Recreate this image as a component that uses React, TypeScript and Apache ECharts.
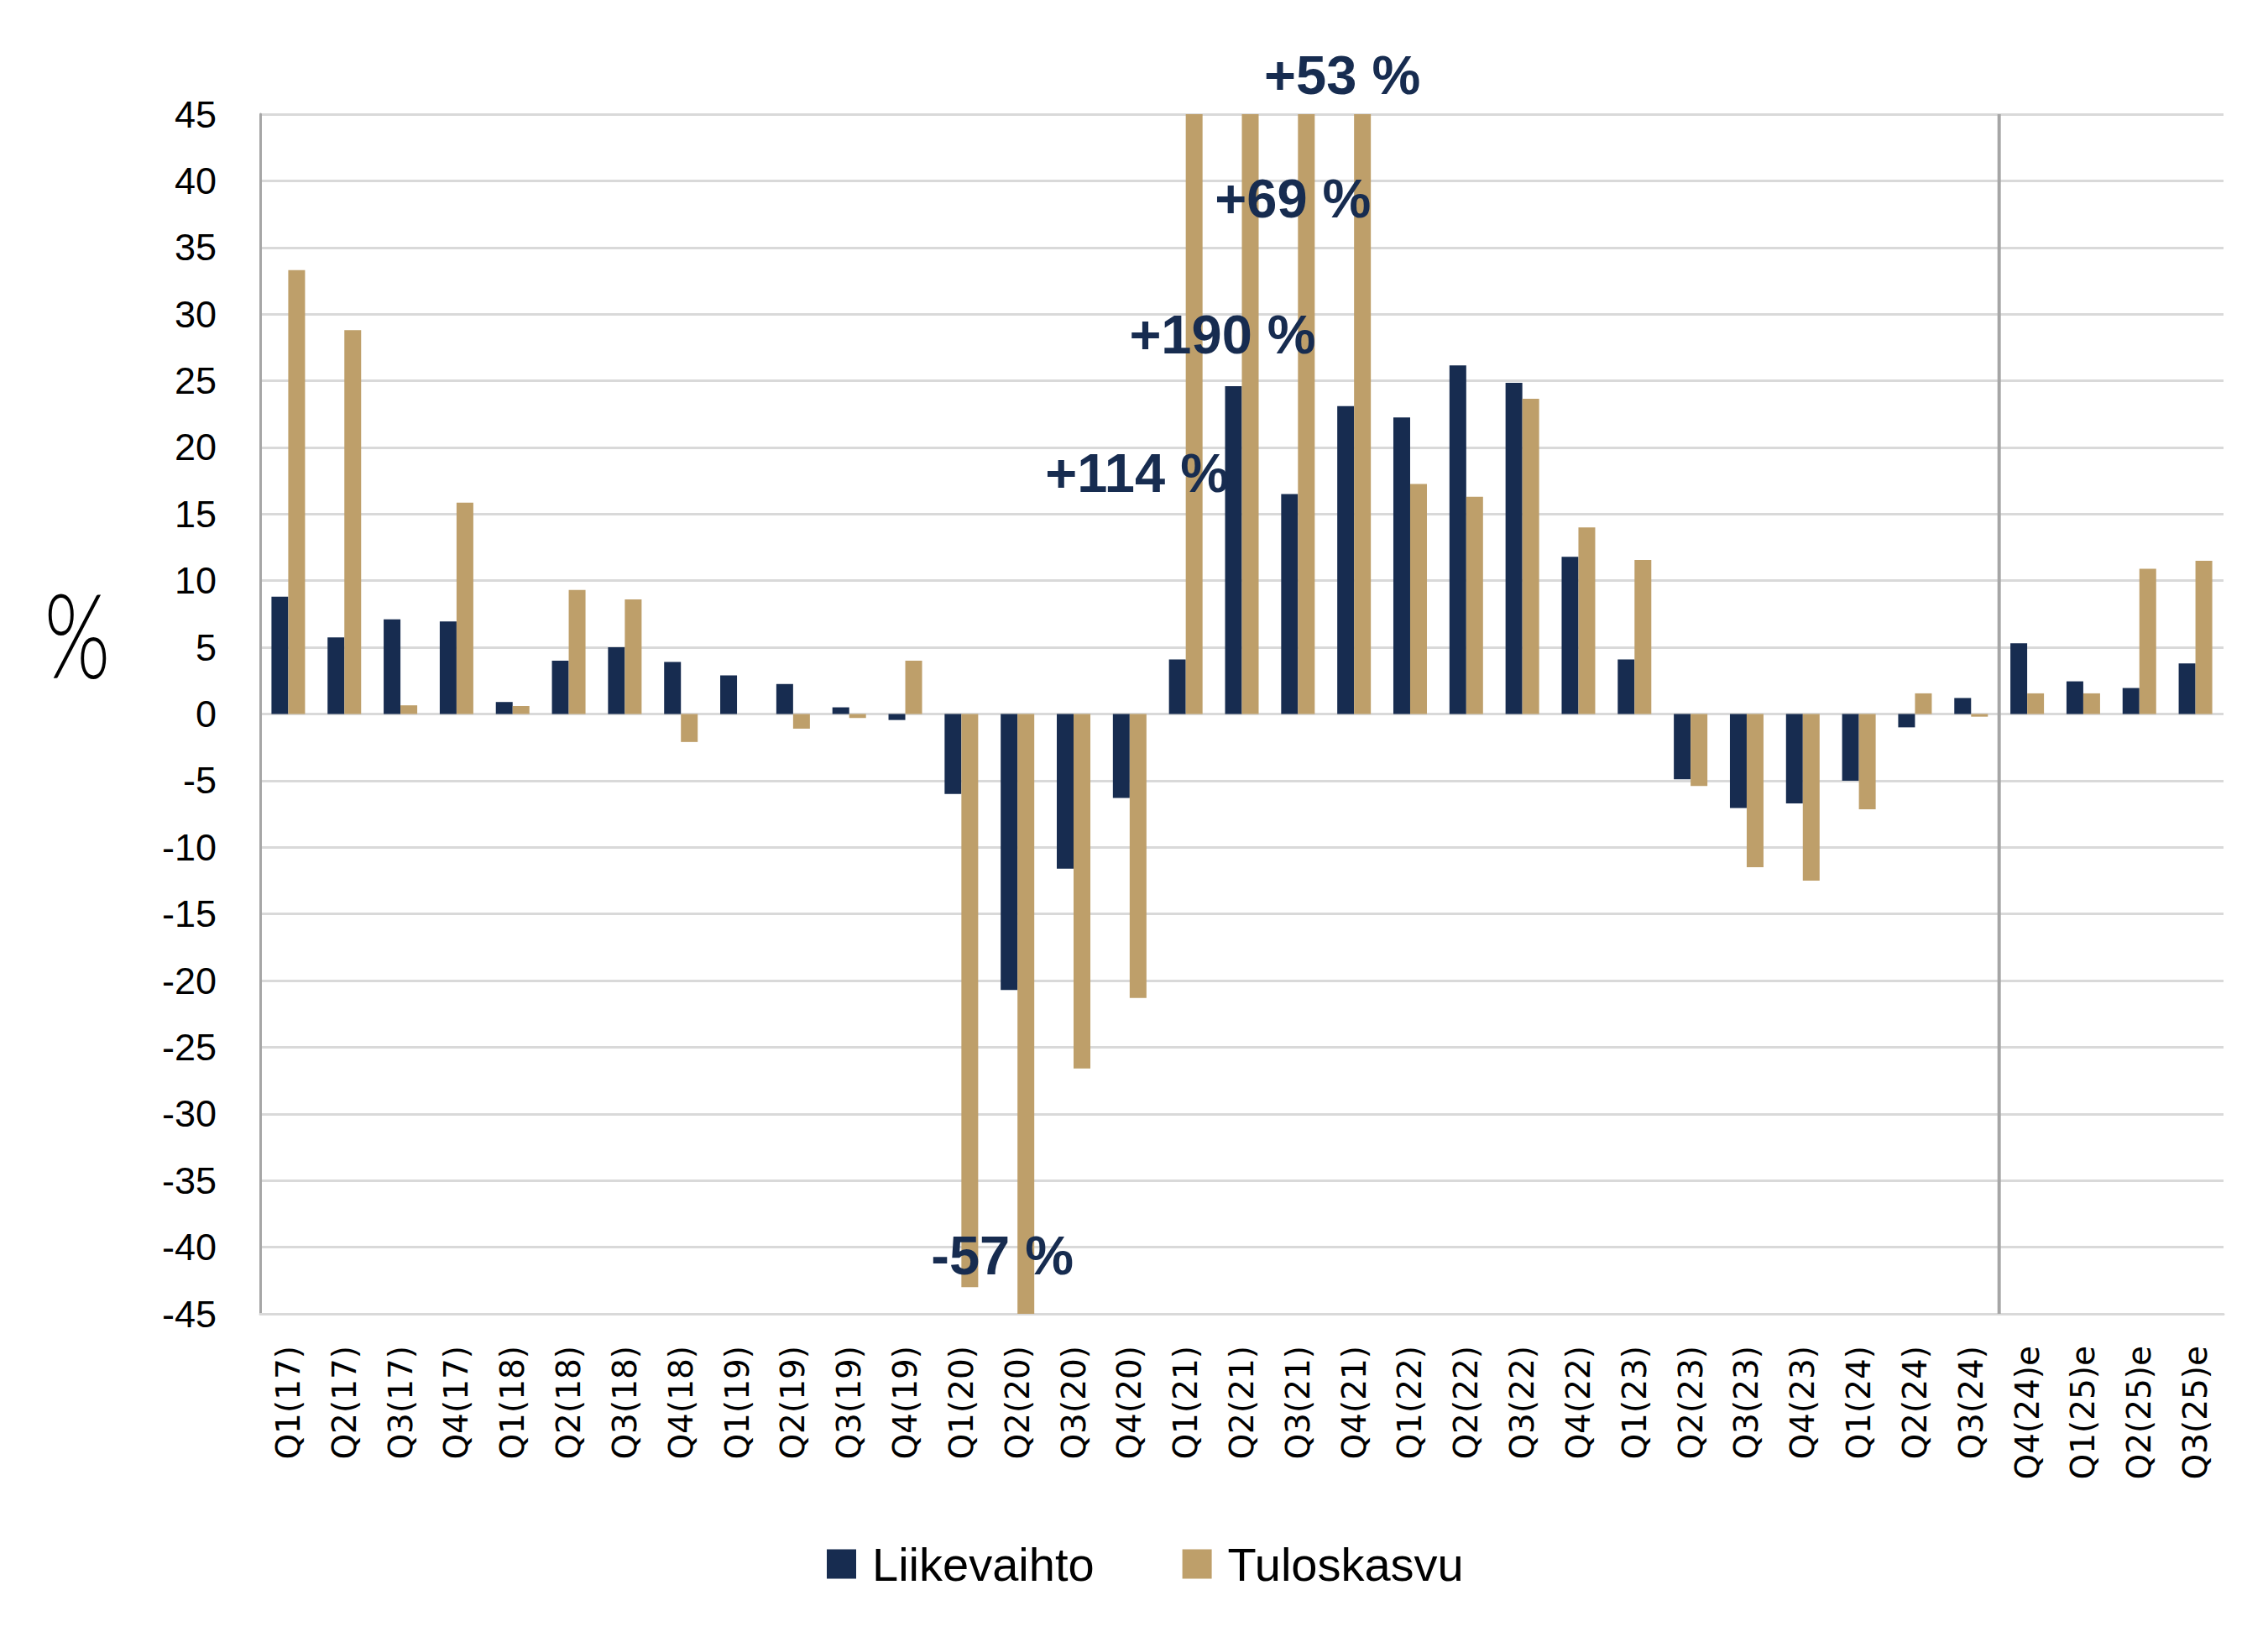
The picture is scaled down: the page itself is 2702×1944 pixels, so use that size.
import React, { useEffect, useRef } from "react";
import * as echarts from "echarts";

const categories = [
  "Q1(17)", "Q2(17)", "Q3(17)", "Q4(17)",
  "Q1(18)", "Q2(18)", "Q3(18)", "Q4(18)",
  "Q1(19)", "Q2(19)", "Q3(19)", "Q4(19)",
  "Q1(20)", "Q2(20)", "Q3(20)", "Q4(20)",
  "Q1(21)", "Q2(21)", "Q3(21)", "Q4(21)",
  "Q1(22)", "Q2(22)", "Q3(22)", "Q4(22)",
  "Q1(23)", "Q2(23)", "Q3(23)", "Q4(23)",
  "Q1(24)", "Q2(24)", "Q3(24)",
  "Q4(24)e", "Q1(25)e", "Q2(25)e", "Q3(25)e",
];

const liikevaihto = [
  8.8, 5.75, 7.1, 6.95,
  0.9, 4.0, 5.0, 3.9,
  2.9, 2.25, 0.5, -0.45,
  -6.0, -20.7, -11.6, -6.3,
  4.1, 24.6, 16.5, 23.1,
  22.25, 26.15, 24.85, 11.8,
  4.1, -4.9, -7.05, -6.7,
  -5.0, -1.0, 1.2,
  5.3, 2.45, 1.95, 3.8,
];

const tuloskasvu = [
  33.3, 28.8, 0.65, 15.85,
  0.6, 9.3, 8.6, -2.1,
  0, -1.1, -0.3, 4.0,
  -43, -57, -26.6, -21.3,
  114, 190, 69, 53,
  17.25, 16.3, 23.65, 14.0,
  11.55, -5.4, -11.5, -12.5,
  -7.15, 1.55, -0.2,
  1.55, 1.55, 10.9, 11.5,
];

const seriesNames = ["Liikevaihto", "Tuloskasvu"];

const yTicks = { min: -45, max: 45, interval: 5 };

// Call-out labels for the bars cut off by the axis range
const annotationTexts = ["+114 %", "+190 %", "+69 %", "+53 %", "-57 %"];
const annotationCategories = ["Q1(21)", "Q2(21)", "Q3(21)", "Q4(21)", "Q2(20)"];
const annotationValues = [18.1, 28.45, 38.66, 47.9, -40.6];

// Last actual quarter before the estimates
const lastActual = "Q3(24)";
const firstEstimate = "Q4(24)e";

// layout (pixels)
const annotationOffsetsX = [-58, -23, -6, -14, -18];

const NAVY = "#172C50";
const GOLD = "#BE9F6A";

export default function App() {
  const ref = useRef<HTMLDivElement>(null);

  useEffect(() => {
    document.body.style.margin = "0";
    const chart = echarts.init(ref.current!, null, { renderer: "svg" });
    const option: any = {
      animation: false,
      backgroundColor: "#ffffff",
      grid: { left: 310, right: 53, top: 136, bottom: 379, containLabel: false },
      legend: {
        left: 980,
        top: 1830,
        itemWidth: 35,
        itemHeight: 35,
        itemGap: 105,
        icon: "rect",
        data: seriesNames,
        textStyle: {
          fontFamily: "Liberation Sans",
          fontSize: 56,
          color: "#000000",
          padding: [0, 0, 0, 14],
        },
      },
      xAxis: {
        type: "category",
        data: categories,
        boundaryGap: true,
        axisLine: { onZero: false, lineStyle: { color: "#D9D9D9", width: 3 } },
        axisTick: { show: false },
        axisLabel: {
          interval: 0,
          rotate: 90,
          margin: 38,
          fontFamily: "DejaVu Sans",
          fontSize: 39,
          color: "#000000",
        },
      },
      yAxis: {
        type: "value",
        min: yTicks.min,
        max: yTicks.max,
        interval: yTicks.interval,
        axisLine: { show: true, lineStyle: { color: "#A6A6A6", width: 3 } },
        axisTick: { show: false },
        splitLine: { lineStyle: { color: "#D9D9D9", width: 3 } },
        axisLabel: {
          margin: 52,
          fontFamily: "Liberation Sans",
          fontSize: 45,
          color: "#000000",
        },
      },
      series: [
        {
          name: seriesNames[0],
          type: "bar",
          data: liikevaihto,
          barWidth: 20,
          barGap: "0%",
          itemStyle: { color: NAVY },
          clip: true,
        },
        {
          name: seriesNames[1],
          type: "bar",
          data: tuloskasvu,
          barWidth: 20,
          barGap: "0%",
          itemStyle: { color: GOLD },
          clip: true,
        },
      ],
    };
    chart.setOption(option);

    const toPx = (cat: string, val: number) =>
      chart.convertToPixel({ gridIndex: 0 }, [cat, val]) as number[];

    const a = toPx(lastActual, 0);
    const b = toPx(firstEstimate, 0);
    const sepX = (a[0] + b[0]) / 2;
    const topY = toPx(lastActual, yTicks.max)[1];
    const botY = toPx(lastActual, yTicks.min)[1];

    const graphics: any[] = [
      {
        type: "line",
        z: 50,
        shape: { x1: sepX, y1: topY, x2: sepX, y2: botY },
        style: { stroke: "#A6A6A6", lineWidth: 4 },
      },
      {
        type: "text",
        x: 92,
        y: 754,
        scaleX: 0.72,
        z: 60,
        style: {
          text: "%",
          fontFamily: "Lato",
          fontWeight: 300,
          fontSize: 140,
          fill: "#000000",
          textAlign: "center",
          textVerticalAlign: "middle",
        },
      },
    ];
    annotationTexts.forEach((t, i) => {
      const p = toPx(annotationCategories[i], annotationValues[i]);
      graphics.push({
        type: "text",
        x: p[0] + annotationOffsetsX[i],
        y: p[1],
        z: 100,
        style: {
          text: t,
          fontFamily: "Liberation Sans",
          fontWeight: "bold",
          fontSize: 65,
          fill: NAVY,
          textAlign: "center",
          textVerticalAlign: "middle",
        },
      });
    });
    chart.setOption({ graphic: graphics });

    return () => chart.dispose();
  }, []);

  return <div ref={ref} style={{ width: 2702, height: 1944 }} />;
}
